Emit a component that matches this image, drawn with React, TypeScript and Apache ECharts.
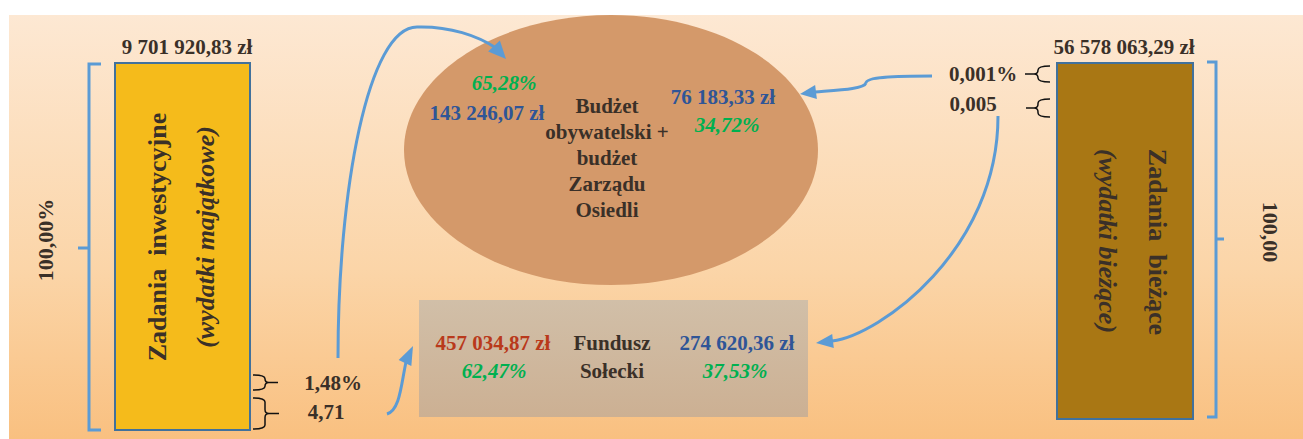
import React, { useEffect, useRef } from "react";
import * as echarts from "echarts";

// ---- data ----
const blockTitles = ["Zadania  inwestycyjne", "Zadania  bieżące"];
const blockSubtitles = ["(wydatki majątkowe)", "(wydatki bieżące)"];
const blockTotals = [9701920.83, 56578063.29];
const blockShareTotals = ["100,00%", "100,00"];
const investShares = ["1,48%", "4,71"];
const currentShares = ["0,001%", "0,005"];
const targetLabels = ["Budżet\nobywatelski +\nbudżet\nZarządu\nOsiedli", "Fundusz\nSołecki"];
const obywatelskiValues = [143246.07, 76183.33];
const obywatelskiShares = ["65,28%", "34,72%"];
const soleckiValues = [457034.87, 274620.36];
const soleckiShares = ["62,47%", "37,53%"];

const fmtPLN = (v: number) => {
  const [i, d] = v.toFixed(2).split(".");
  return i.replace(/\B(?=(\d{3})+(?!\d))/g, " ") + "," + d + " zł";
};

const FONT = '"Liberation Serif", "Times New Roman", serif';
const DARK = "#3a3028";
const BLUE_TXT = "#2f5597";
const GREEN = "#00b050";
const RED = "#b9391b";
const LINE = "#5b9bd5";

function txt(x: number, y: number, text: string, opts: any = {}) {
  return {
    type: "text",
    x,
    y,
    rotation: opts.rotation || 0,
    z: 10,
    style: {
      text,
      fill: opts.fill || DARK,
      fontFamily: FONT,
      fontSize: opts.size || 21,
      fontWeight: "bold",
      fontStyle: opts.italic ? "italic" : "normal",
      lineHeight: opts.lineHeight,
      align: "center",
      verticalAlign: "middle",
      textAlign: "center",
      textVerticalAlign: "middle",
    },
  };
}

// brace path: x0 = open end, xv = vertical spine, xt = tip
function braceD(x0: number, y0: number, y1: number, xv: number, xt: number) {
  const ym = (y0 + y1) / 2;
  const s = xt > xv ? 1 : -1;
  const r = Math.min(4, (y1 - y0) / 4);
  return [
    `M${x0},${y0}`,
    `Q${xv},${y0} ${xv},${y0 + r}`,
    `L${xv},${ym - r}`,
    `Q${xv},${ym} ${xv + s * r},${ym}`,
    `L${xt},${ym}`,
    `M${xv + s * r},${ym}`,
    `Q${xv},${ym} ${xv},${ym + r}`,
    `L${xv},${y1 - r}`,
    `Q${xv},${y1} ${x0},${y1}`,
  ].join(" ");
}

const braces = [
  braceD(253, 375, 390, 265, 278),
  braceD(253, 398, 429, 265, 279),
  braceD(1050, 66, 82, 1038, 1025),
  braceD(1050, 99, 117, 1038, 1026),
];
braces.forEach((d, i) => {
  echarts.graphic.registerShape("brace" + i, echarts.graphic.extendPath(d, {}) as any);
});

function head(tip: number[], base: number[], hw: number) {
  const dx = tip[0] - base[0];
  const dy = tip[1] - base[1];
  const L = Math.hypot(dx, dy);
  const nx = -dy / L;
  const ny = dx / L;
  return {
    type: "polygon",
    z: 5,
    shape: {
      points: [
        tip,
        [base[0] + nx * hw, base[1] + ny * hw],
        [base[0] - nx * hw, base[1] - ny * hw],
      ],
    },
    style: { fill: LINE },
  };
}

function bez(p: number[][]) {
  return {
    type: "bezierCurve",
    z: 5,
    shape: {
      x1: p[0][0], y1: p[0][1],
      cpx1: p[1][0], cpy1: p[1][1],
      cpx2: p[2][0], cpy2: p[2][1],
      x2: p[3][0], y2: p[3][1],
    },
    style: { stroke: LINE, lineWidth: 3, fill: null },
  };
}

function poly(points: number[][]) {
  return {
    type: "polyline",
    z: 5,
    shape: { points },
    style: { stroke: LINE, lineWidth: 3, fill: null },
  };
}

export default function App() {
  const ref = useRef<HTMLDivElement>(null);
  useEffect(() => {
    if (!ref.current) return;
    const chart = echarts.init(ref.current, null, { renderer: "svg" });
    const graphic: any[] = [
      // background
      {
        type: "rect",
        z: 0,
        shape: { x: 9, y: 15, width: 1294, height: 424 },
        style: {
          fill: new echarts.graphic.LinearGradient(0, 0, 0, 1, [
            { offset: 0, color: "#fde8d3" },
            { offset: 0.6, color: "#fbd5a8" },
            { offset: 1, color: "#f9c080" },
          ]),
        },
      },
      // ellipse
      {
        type: "ellipse",
        z: 1,
        shape: { cx: 611, cy: 150, rx: 207, ry: 135 },
        style: { fill: "#d4996a" },
      },
      // Fundusz box
      {
        type: "rect",
        z: 1,
        shape: { x: 419, y: 300, width: 389, height: 117 },
        style: {
          fill: new echarts.graphic.LinearGradient(0, 0, 0, 1, [
            { offset: 0, color: "#d1bfa8" },
            { offset: 1, color: "#ccb093" },
          ]),
        },
      },
      // left block
      {
        type: "rect",
        z: 2,
        shape: { x: 115, y: 63, width: 135, height: 367 },
        style: { fill: "#f5bb1b", stroke: "#41719c", lineWidth: 2 },
      },
      // right block
      {
        type: "rect",
        z: 2,
        shape: { x: 1057, y: 63, width: 136, height: 356 },
        style: { fill: "#a97714", stroke: "#41719c", lineWidth: 2 },
      },
      // blue brackets
      poly([[101, 64], [89, 64], [89, 430], [101, 430]]),
      poly([[78, 248], [89, 248]]),
      poly([[1207, 62], [1216, 62], [1216, 417], [1207, 417]]),
      poly([[1216, 239], [1224, 239]]),
      // arrow 1 (investments -> ellipse)
      bez([[338, 358], [338, 190], [368, 27], [417, 27]]),
      bez([[417, 27], [450, 26], [478, 36], [496, 48]]),
      head([506, 59], [494, 46], 8),
      // arrow 2 (investments -> Fundusz)
      bez([[387, 414], [400, 410], [401, 385], [406, 362]]),
      head([413, 346], [405, 363], 7),
      // arrow 3 (current -> ellipse)
      bez([[932, 76], [895, 76], [866, 77], [866, 83]]),
      bez([[866, 83], [864, 89], [840, 90], [815, 92]]),
      head([800, 94], [816, 92], 7),
      // arrow 4 (current -> Fundusz)
      bez([[998, 116], [998, 250], [880, 335], [832, 341]]),
      head([816, 343], [833, 341], 7),
    ];

    braces.forEach((_, i) => {
      graphic.push({
        type: "brace" + i,
        z: 5,
        x: 0,
        y: 0,
        style: { stroke: "#111", lineWidth: 1.5, fill: "none" },
      });
    });

    graphic.push(
      // totals above blocks
      txt(187, 47, fmtPLN(blockTotals[0])),
      txt(1124, 47, fmtPLN(blockTotals[1])),
      // left block texts
      txt(157, 237, blockTitles[0], { size: 26, rotation: Math.PI / 2 }),
      txt(205, 237, blockSubtitles[0], { size: 26, italic: true, rotation: Math.PI / 2 }),
      txt(45, 240, blockShareTotals[0], { size: 22, rotation: Math.PI / 2 }),
      txt(333, 383, investShares[0]),
      txt(326, 412, investShares[1]),
      // right block texts
      txt(1157, 242, blockTitles[1], { size: 26, rotation: -Math.PI / 2 }),
      txt(1107, 241, blockSubtitles[1], { size: 26, italic: true, rotation: -Math.PI / 2 }),
      txt(1270, 232, blockShareTotals[1], { size: 22, rotation: -Math.PI / 2 }),
      txt(983, 74, currentShares[0]),
      txt(973, 104, currentShares[1]),
      // ellipse texts
      txt(607, 158, targetLabels[0], { lineHeight: 26 }),
      txt(504, 83, obywatelskiShares[0], { fill: GREEN, italic: true }),
      txt(487, 113, fmtPLN(obywatelskiValues[0]), { fill: BLUE_TXT }),
      txt(723, 97, fmtPLN(obywatelskiValues[1]), { fill: BLUE_TXT }),
      txt(727, 125, obywatelskiShares[1], { fill: GREEN, italic: true }),
      // Fundusz texts
      txt(612, 357, targetLabels[1], { lineHeight: 28 }),
      txt(493, 343, fmtPLN(soleckiValues[0]), { fill: RED }),
      txt(494, 371, soleckiShares[0], { fill: GREEN, italic: true }),
      txt(737, 343, fmtPLN(soleckiValues[1]), { fill: BLUE_TXT }),
      txt(735, 371, soleckiShares[1], { fill: GREEN, italic: true })
    );

    chart.setOption({ animation: false, backgroundColor: "#ffffff", graphic });
    return () => chart.dispose();
  }, []);

  return (
    <div
      ref={ref}
      style={{ position: "absolute", left: 0, top: 0, width: 1303, height: 439 }}
    />
  );
}
